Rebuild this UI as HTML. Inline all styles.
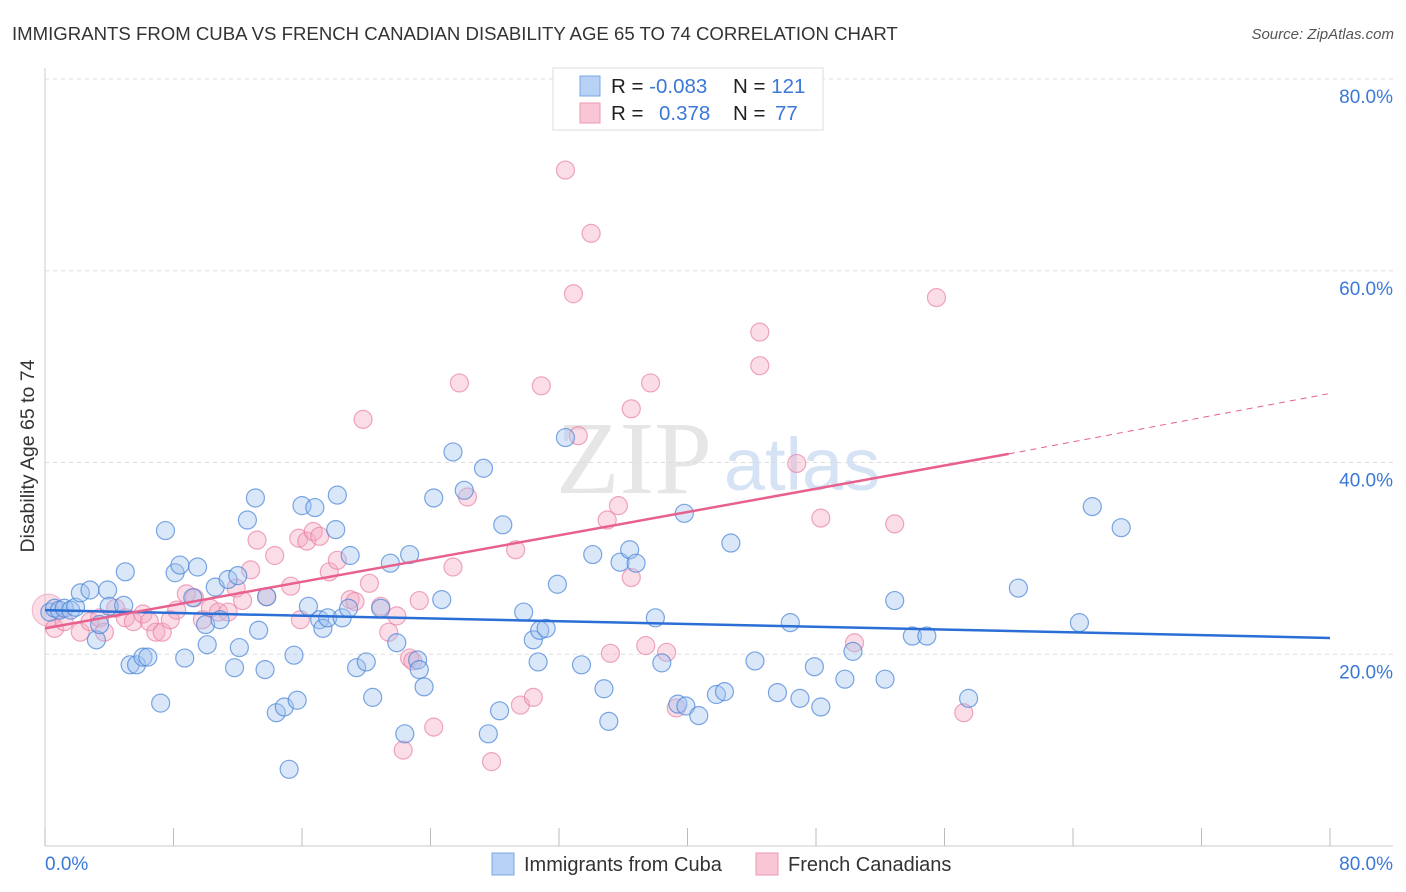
<!DOCTYPE html>
<html><head><meta charset="utf-8"><style>
body{margin:0;background:#fff;font-family:"Liberation Sans",sans-serif;}
#wrap{position:relative;width:1406px;height:892px;overflow:hidden;}
</style></head><body>
<div id="wrap">
<svg id="svg" width="1406" height="892" xmlns="http://www.w3.org/2000/svg">
<text x="12" y="40" font-size="18.6" fill="#333">IMMIGRANTS FROM CUBA VS FRENCH CANADIAN DISABILITY AGE 65 TO 74 CORRELATION CHART</text>
<text x="1394" y="39" font-size="15" fill="#555" font-style="italic" text-anchor="end">Source: ZipAtlas.com</text>
<text x="634" y="493" font-size="104" fill="#e6e6e6" font-family="Liberation Serif,serif" text-anchor="middle">ZIP</text>
<text x="802" y="490" font-size="74" fill="#d6e3f5" text-anchor="middle">atlas</text>
<text transform="translate(34,456) rotate(-90)" font-size="19.5" fill="#333" text-anchor="middle">Disability Age 65 to 74</text>
<g id="grid"></g><g id="pts"></g><g id="trend"></g>
<rect x="553" y="68" width="270" height="62" fill="#fff" stroke="#ddd"/>
<rect x="580" y="76" width="20" height="20" fill="#b8d2f5" stroke="#7aa7e6"/>
<rect x="580" y="103" width="20" height="20" fill="#f8c6d5" stroke="#ec9ab4"/>
<text x="611" y="93" font-size="20.5" fill="#222">R = <tspan fill="#3b78d8">-0.083</tspan></text>
<text x="733" y="93" font-size="20.5" fill="#222">N = <tspan fill="#3b78d8">121</tspan></text>
<text x="611" y="120" font-size="20.5" fill="#222">R = <tspan fill="#3b78d8" x="659">0.378</tspan></text>
<text x="733" y="120" font-size="20.5" fill="#222">N = <tspan fill="#3b78d8" x="775">77</tspan></text>
<rect x="492" y="853" width="22" height="22" fill="#b8d2f5" stroke="#7aa7e6"/>
<text x="524" y="871" font-size="20" fill="#333">Immigrants from Cuba</text>
<rect x="756" y="853" width="22" height="22" fill="#f8c6d5" stroke="#ec9ab4"/>
<text x="788" y="871" font-size="20" fill="#333">French Canadians</text>
<text x="45" y="870" font-size="19" fill="#3b78d8">0.0%</text>
<text x="1393" y="870" font-size="19" fill="#3b78d8" text-anchor="end">80.0%</text>
</svg></div>
<script>
const yTicks=[20,40,60,80];
const yTickLabels=["20.0%","40.0%","60.0%","80.0%"];
const xTickVals=[0,8,16,24,32,40,48,56,64,72,80];
const blueX=[0.3,0.6,0.9,1.2,1.6,1.9,2.2,2.8,3.2,3.4,3.9,4.0,4.9,5.0,5.3,5.7,6.1,6.4,7.2,7.5,8.1,8.4,8.7,9.2,9.5,10.0,10.1,10.6,10.9,11.4,11.8,12.0,12.1,12.6,13.1,13.3,13.7,13.8,14.4,14.9,15.2,15.5,15.7,16.0,16.4,16.8,17.1,17.3,17.6,18.1,18.2,18.5,18.9,19.0,19.4,20.0,20.4,20.9,21.5,21.9,22.4,22.7,23.2,23.3,23.6,24.2,24.7,25.4,26.1,27.3,27.6,28.3,28.5,29.8,30.4,30.7,30.8,31.2,31.9,32.4,33.4,34.1,34.8,35.1,35.8,36.4,36.8,38.0,38.4,39.4,39.9,39.8,40.7,41.8,42.3,42.7,44.2,45.6,46.4,47.0,47.9,48.3,49.8,50.3,52.3,52.9,54.0,54.9,57.5,60.6,64.4,65.2,67.0];
const blueY=[24.4,24.8,24.6,24.8,24.6,24.9,26.4,26.7,21.5,23.1,26.7,25.0,25.1,28.6,18.9,18.9,19.7,19.7,14.9,32.9,28.5,29.3,19.6,25.9,29.1,23.1,21.0,27.0,23.6,27.8,18.6,28.2,20.7,34.0,36.3,22.5,18.4,26.0,13.9,14.5,8.0,19.9,15.2,35.5,25.0,35.3,23.6,22.7,23.8,33.0,36.6,23.8,24.8,30.3,18.6,19.2,15.5,24.8,29.5,21.2,11.7,30.4,19.4,18.4,16.6,36.3,25.7,41.1,37.1,39.4,11.7,14.1,33.5,24.4,21.5,19.2,22.5,22.7,27.3,42.6,18.9,30.4,16.4,13.0,29.6,30.9,29.5,23.8,19.1,14.8,14.6,34.7,13.6,15.8,16.1,31.6,19.3,16.0,23.3,15.4,18.7,14.5,17.4,20.3,17.4,25.6,21.9,21.9,15.4,26.9,23.3,35.4,33.2];
const pinkX=[0.6,1.2,2.2,2.8,3.4,3.7,4.4,5.0,5.5,6.1,6.5,6.9,7.3,7.8,8.2,8.8,9.3,9.8,10.3,10.8,11.4,11.9,12.3,12.8,13.2,13.8,14.3,15.3,15.9,15.8,16.3,16.7,17.1,17.7,18.2,19.0,19.3,19.8,20.2,20.9,21.4,21.9,22.7,22.9,23.3,22.3,24.2,25.4,25.8,26.3,27.8,29.3,29.6,30.4,30.9,32.4,32.9,33.2,34.0,35.0,35.2,35.7,36.5,36.5,37.4,37.7,38.7,39.3,44.5,44.5,46.8,48.3,50.4,52.9,55.5,57.2];
const pinkY=[22.7,23.4,22.3,23.4,23.8,22.3,24.8,23.8,23.4,24.2,23.4,22.3,22.3,23.6,24.6,26.3,25.9,23.6,24.8,24.4,24.4,26.9,25.6,28.8,31.9,26.0,30.3,27.1,23.6,32.1,31.8,32.8,32.3,28.6,29.8,25.7,25.5,44.5,27.4,25.0,22.3,24.0,19.6,19.3,25.6,10.0,12.4,29.1,48.3,36.4,8.8,30.9,14.7,15.5,48.0,70.5,57.6,42.8,63.9,34.0,20.1,35.5,45.6,28.0,20.9,48.3,20.2,14.4,53.6,50.1,39.9,34.2,21.2,33.6,57.2,13.9];
const blueTrendX=[0,80], blueTrendY=[24.6,21.7];
const pinkTrendX=[0,60,80], pinkTrendY=[22.7,40.9,47.2];
const NS="http://www.w3.org/2000/svg";
const X0=45,X1=1330,Y0=846,Y80=79;
const sx=v=>X0+(v/80)*(X1-X0);
const sy=v=>Y0-(v/80)*(Y0-Y80);
function mk(tag,attrs,parent){const e=document.createElementNS(NS,tag);for(const k in attrs)e.setAttribute(k,attrs[k]);parent.appendChild(e);return e;}
const grid=document.getElementById('grid');
let ax=mk('line',{x1:X0,y1:68,x2:X0,y2:Y0,stroke:'#ccc'},grid);


let bx=mk('line',{x1:X0,y1:Y0,x2:1393,y2:Y0,stroke:'#ccc'},grid);


yTicks.forEach((t,i)=>{
 const g=mk('line',{x1:X0,y1:sy(t),x2:1393,y2:sy(t),stroke:'#ddd','stroke-dasharray':'4,4'},grid);
 
 
 const tx=mk('text',{x:1393,y:sy(t)+24,'font-size':19,fill:'#3b78d8','text-anchor':'end'},grid);
 tx.textContent=yTickLabels[i];
 
 
});
xTickVals.forEach(t=>{
 const l=mk('line',{x1:sx(t),y1:828,x2:sx(t),y2:Y0,stroke:'#bbb'},grid);
 
 
});
const pts=document.getElementById('pts');
const big=mk('circle',{cx:sx(0.2),cy:sy(24.6),r:16,fill:'rgba(245,170,195,0.4)',stroke:'rgba(232,140,170,0.6)'},pts);


pinkX.forEach((v,i)=>{
 const c=mk('circle',{cx:sx(v),cy:sy(pinkY[i]),r:9,fill:'rgba(245,170,195,0.4)',stroke:'rgba(232,130,165,0.7)','stroke-width':1.2},pts);
 
 
});
blueX.forEach((v,i)=>{
 const c=mk('circle',{cx:sx(v),cy:sy(blueY[i]),r:9,fill:'rgba(160,195,240,0.4)',stroke:'rgba(70,130,215,0.7)','stroke-width':1.2},pts);
 
 
});
const tr=document.getElementById('trend');
const bl=mk('line',{x1:sx(blueTrendX[0]),y1:sy(blueTrendY[0]),x2:sx(blueTrendX[1]),y2:sy(blueTrendY[1]),stroke:'#2b6fd6','stroke-width':2.5},tr);


const pl=mk('line',{x1:sx(pinkTrendX[0]),y1:sy(pinkTrendY[0]),x2:sx(pinkTrendX[1]),y2:sy(pinkTrendY[1]),stroke:'#e8608e','stroke-width':2.5},tr);


const pd=mk('line',{x1:sx(pinkTrendX[1]),y1:sy(pinkTrendY[1]),x2:sx(pinkTrendX[2]),y2:sy(pinkTrendY[2]),stroke:'#e8608e','stroke-width':1,'stroke-dasharray':'6,5'},tr);


</script>
</body></html>
